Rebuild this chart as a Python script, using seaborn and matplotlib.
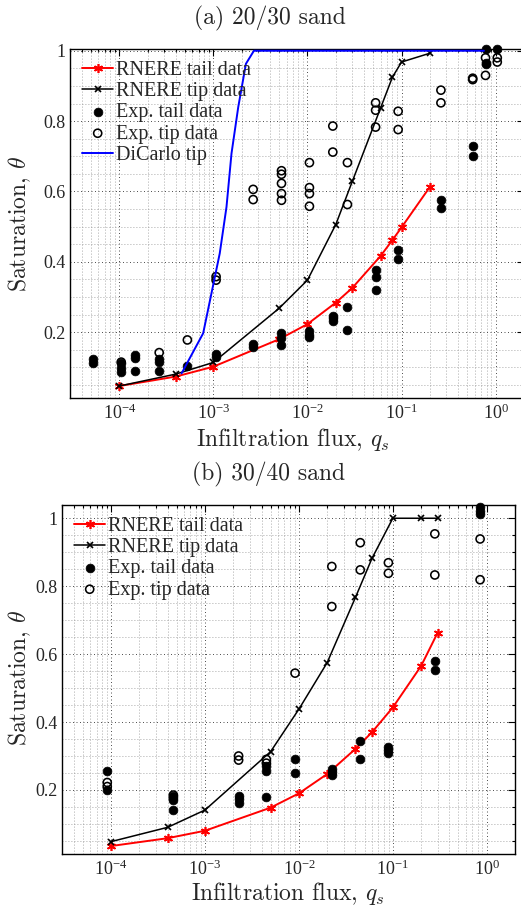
import numpy as np
import matplotlib
matplotlib.use("Agg")
import matplotlib.pyplot as plt
import matplotlib.ticker as mticker
import seaborn as sns

# ---- (a) 20/30 sand ----
a_tail_x = [1e-4, 4e-4, 1e-3, 5e-3, 1e-2, 2e-2, 3e-2, 6e-2, 8e-2, 1e-1, 2e-1]
a_tail_y = [0.047, 0.074, 0.102, 0.180, 0.223, 0.284, 0.326, 0.417, 0.462, 0.498, 0.613]
a_tip_x = [1e-4, 4e-4, 1e-3, 5e-3, 1e-2, 2e-2, 3e-2, 6e-2, 8e-2, 1e-1, 2e-1]
a_tip_y = [0.047, 0.081, 0.114, 0.268, 0.348, 0.506, 0.629, 0.838, 0.925, 0.968, 0.993]
dicarlo_x = [4.6e-4, 7.8e-4, 1.17e-3, 1.38e-3, 1.56e-3, 1.84e-3, 2.22e-3, 2.7e-3, 0.75]
dicarlo_y = [0.083, 0.197, 0.424, 0.556, 0.708, 0.84, 0.963, 1.0, 1.0]

a_exp_tail_x = [5.3e-5, 5.3e-5, 1.05e-4, 1.05e-4, 1.05e-4, 1.47e-4, 1.47e-4, 1.47e-4,
                2.66e-4, 2.66e-4, 2.66e-4, 5.3e-4, 1.07e-3, 1.07e-3, 2.65e-3, 2.65e-3,
                5.3e-3, 5.3e-3, 5.3e-3, 1.05e-2, 1.05e-2, 1.05e-2, 1.86e-2, 1.86e-2, 1.86e-2,
                2.66e-2, 2.66e-2, 5.3e-2, 5.3e-2, 5.3e-2, 9.2e-2, 9.2e-2, 0.262, 0.262,
                0.57, 0.57, 0.78, 0.78, 0.78, 1.04]
a_exp_tail_y = [0.125, 0.112, 0.112, 0.098, 0.088, 0.135, 0.126, 0.091,
                0.123, 0.114, 0.091, 0.104, 0.138, 0.129, 0.167, 0.157,
                0.197, 0.183, 0.164, 0.204, 0.192, 0.187, 0.247, 0.240, 0.232,
                0.271, 0.206, 0.377, 0.356, 0.320, 0.435, 0.407, 0.577, 0.552,
                0.729, 0.700, 1.004, 0.965, 0.961, 1.004]
a_exp_tip_x = [1.05e-4, 2.66e-4, 5.3e-4, 1.07e-3, 1.07e-3, 2.65e-3, 2.65e-3,
               5.3e-3, 5.3e-3, 5.3e-3, 5.3e-3, 5.3e-3, 1.05e-2, 1.05e-2, 1.05e-2, 1.05e-2,
               1.86e-2, 1.86e-2, 2.66e-2, 2.66e-2, 5.3e-2, 5.3e-2, 5.3e-2, 9.2e-2, 9.2e-2,
               0.262, 0.262, 0.57, 0.57, 0.78, 0.78, 1.04, 1.04]
a_exp_tip_y = [0.115, 0.142, 0.178, 0.358, 0.348, 0.606, 0.577,
               0.659, 0.649, 0.623, 0.594, 0.575, 0.682, 0.611, 0.594, 0.558,
               0.786, 0.712, 0.682, 0.563, 0.852, 0.831, 0.783, 0.828, 0.776,
               0.888, 0.852, 0.922, 0.918, 0.980, 0.930, 0.980, 0.968]

# ---- (b) 30/40 sand ----
b_tail_x = [1e-4, 4e-4, 1e-3, 5e-3, 1e-2, 2e-2, 4e-2, 6e-2, 1e-1, 2e-1, 3e-1]
b_tail_y = [0.035, 0.058, 0.080, 0.148, 0.190, 0.247, 0.321, 0.370, 0.443, 0.565, 0.663]
b_tip_x = [1e-4, 4e-4, 1e-3, 5e-3, 1e-2, 2e-2, 4e-2, 6e-2, 1e-1, 2e-1, 3e-1]
b_tip_y = [0.048, 0.090, 0.141, 0.313, 0.438, 0.575, 0.767, 0.882, 1.0, 1.0, 1.0]

b_exp_tail_x = [9.1e-5, 9.1e-5, 4.6e-4, 4.6e-4, 4.6e-4, 2.28e-3, 2.28e-3, 2.28e-3,
                4.5e-3, 4.5e-3, 4.5e-3, 9.1e-3, 9.1e-3, 2.24e-2, 2.24e-2, 2.24e-2,
                4.5e-2, 4.5e-2, 8.97e-2, 8.97e-2, 8.97e-2, 0.28, 0.28, 0.85, 0.85, 0.85]
b_exp_tail_y = [0.257, 0.200, 0.182, 0.170, 0.141, 0.182, 0.173, 0.163,
                0.271, 0.257, 0.178, 0.291, 0.251, 0.261, 0.254, 0.244,
                0.344, 0.291, 0.326, 0.318, 0.310, 0.581, 0.553, 1.034, 1.022, 1.012]
b_exp_tip_x = [9.1e-5, 9.1e-5, 4.6e-4, 4.6e-4, 2.28e-3, 2.28e-3, 4.5e-3, 4.5e-3,
               9.1e-3, 2.24e-2, 2.24e-2, 4.5e-2, 4.5e-2, 8.97e-2, 8.97e-2,
               0.28, 0.28, 0.85, 0.85]
b_exp_tip_y = [0.222, 0.210, 0.185, 0.175, 0.300, 0.288, 0.290, 0.279,
               0.544, 0.858, 0.740, 0.928, 0.848, 0.869, 0.838,
               0.954, 0.833, 0.939, 0.819]

sns.set_style("white")
plt.rcParams["font.family"] = ["Liberation Serif", "DejaVu Serif"]
plt.rcParams["mathtext.fontset"] = "stix"

W, H = 521, 905
fig = plt.figure(figsize=(W / 100, H / 100), dpi=100)

# axes boxes in pixels: left, top, right, bottom
ax_a = fig.add_axes([70 / W, 1 - 398 / H, 454 / W, 349 / H])
ax_b = fig.add_axes([62 / W, 1 - 854 / H, 453 / W, 349 / H])

star = (6, 2, 0)
dots = (0, (1, 2.6))


def style_axes(ax, ylim):
    ax.set_xscale("log")
    ax.set_xlim(3e-5, 2)
    ax.set_ylim(*ylim)
    ax.xaxis.set_major_locator(mticker.LogLocator(base=10, numticks=10))
    ax.xaxis.set_minor_locator(mticker.LogLocator(base=10, subs=np.arange(2, 10), numticks=20))
    ax.xaxis.set_minor_formatter(mticker.NullFormatter())
    ax.yaxis.set_major_locator(mticker.FixedLocator([0.2, 0.4, 0.6, 0.8, 1.0]))
    ax.yaxis.set_major_formatter(mticker.FuncFormatter(lambda v, p: "%g" % v))
    ax.yaxis.set_minor_locator(mticker.MultipleLocator(0.05))
    ax.grid(which="major", linestyle=dots, color="0.3", linewidth=0.7)
    ax.grid(which="minor", linestyle=dots, color="0.55", linewidth=0.6)
    ax.tick_params(which="both", direction="in", top=True, right=True, width=0.8,
                   labelsize=13, color="k")
    ax.tick_params(axis="x", which="major", length=5, pad=4)
    ax.tick_params(axis="y", which="major", length=5, pad=3)
    ax.tick_params(which="minor", length=2.5)
    for s in ax.spines.values():
        s.set_linewidth(1.0)
        s.set_color("k")
    ax.set_xlabel("")
    ax.set_ylabel("")


def draw_panel(ax, tail_x, tail_y, tip_x, tip_y, et_x, et_y, ep_x, ep_y):
    sns.lineplot(x=tail_x, y=tail_y, ax=ax, color="red", linewidth=1.4, marker=star,
                 markersize=6.5, markeredgewidth=1.2, markeredgecolor="red",
                 label="RNERE tail data", zorder=3)
    sns.lineplot(x=tip_x, y=tip_y, ax=ax, color="black", linewidth=1.1, marker="x",
                 markersize=4.5, markeredgewidth=1.2, markeredgecolor="black",
                 label="RNERE tip data", zorder=3)
    sns.scatterplot(x=et_x, y=et_y, ax=ax, color="k", edgecolor="k", s=40,
                    linewidth=0.5, marker="o", label="Exp. tail data",
                    clip_on=False, zorder=4)
    sns.scatterplot(x=ep_x, y=ep_y, ax=ax, color="k", facecolor="none", edgecolor="k",
                    s=34, linewidth=1.15, marker="o", label="Exp. tip data",
                    clip_on=False, zorder=4)


style_axes(ax_a, (0.013, 1.005))
draw_panel(ax_a, a_tail_x, a_tail_y, a_tip_x, a_tip_y,
           a_exp_tail_x, a_exp_tail_y, a_exp_tip_x, a_exp_tip_y)
sns.lineplot(x=dicarlo_x, y=dicarlo_y, ax=ax_a, color="#0000ff", linewidth=1.4,
             label="DiCarlo tip", zorder=5)
style_axes(ax_a, (0.013, 1.005))

style_axes(ax_b, (0.0115, 1.039))
draw_panel(ax_b, b_tail_x, b_tail_y, b_tip_x, b_tip_y,
           b_exp_tail_x, b_exp_tail_y, b_exp_tip_x, b_exp_tip_y)
style_axes(ax_b, (0.0115, 1.039))

for ax in (ax_a, ax_b):
    ax.legend(loc="upper left", frameon=False, fontsize=14.5, handlelength=1.55,
              handletextpad=0.15, labelspacing=0.1, borderaxespad=0.3, borderpad=0.3)

cm = dict(fontfamily="cmr10", math_fontfamily="cm", fontsize=17, ha="center", va="center")
fig.text(270 / W, 1 - 18 / H, "(a) 20/30 sand", **cm)
fig.text(269 / W, 1 - 474 / H, "(b) 30/40 sand", **cm)
fig.text(293 / W, 1 - 439 / H, "Infiltration flux, $q_s$", **cm)
fig.text(288 / W, 1 - 893 / H, "Infiltration flux, $q_s$", **cm)
fig.text(20 / W, 1 - 224 / H, r"Saturation, $\theta$", rotation=90, **cm)
fig.text(20 / W, 1 - 678 / H, r"Saturation, $\theta$", rotation=90, **cm)

fig.savefig("out.png", dpi=100)
